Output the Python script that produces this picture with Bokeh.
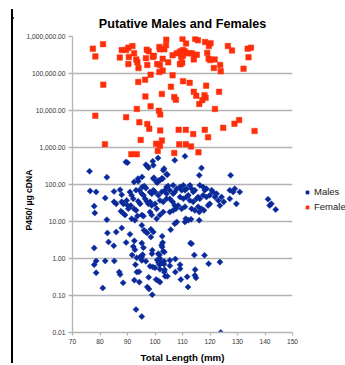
import math
from bokeh.plotting import figure
from bokeh.layouts import row, column
from bokeh.models import (FixedTicker, NumeralTickFormatter, Legend, Div,
                          LegendItem, Range1d, ColumnDataSource)
from bokeh.embed import file_html
from bokeh.resources import INLINE

# ---------------- data ----------------
female_length = [77.4, 78.3, 81.1, 81.2, 87.2, 87.9, 89.5, 90.3, 90.3, 90.5,
                 91.8, 92.4, 93.2, 93.6, 94.0, 93.9, 96.4, 97.0, 97.7, 96.7,
                 97.2, 98.4, 99.2, 99.6, 100.8, 101.6, 101.8, 102.8, 101.8, 101.6,
                 102.8, 103.4, 104.0, 104.1, 104.8, 106.4, 107.9, 109.1, 106.4, 105.8,
                 96.5, 102.5, 107.0, 110.0, 111.3, 114.6, 115.6, 118.2, 119.6, 120.2,
                 109.0, 109.5, 110.2, 110.8, 111.3, 112.6, 113.4, 114.4, 115.2, 110.2,
                 109.5, 114.1, 109.3, 109.9, 119.0, 119.5, 120.1, 121.7, 121.4, 123.7,
                 123.9, 126.5, 128.0, 132.2, 133.7, 134.9, 134.0, 110.2, 112.6, 118.6,
                 114.1, 115.0, 118.0, 118.4, 117.2, 123.3, 107.6, 116.1, 121.8, 93.4,
                 98.4, 101.4, 101.9, 78.3, 89.5, 94.3, 97.2, 97.9, 101.9, 108.6,
                 111.2, 113.9, 118.1, 119.3, 124.8, 128.9, 130.6, 136.2, 94.8, 100.4,
                 102.5, 101.8, 81.8, 108.8, 111.2, 113.1, 101.0, 91.4, 93.4, 107.0,
                 115.8]
female_p450 = [470000, 290000, 620000, 50000, 270000, 430000, 430000, 500000, 180000, 280000,
               550000, 350000, 240000, 200000, 140000, 59000, 68000, 440000, 400000, 260000,
               170000, 93000, 280000, 300000, 180000, 520000, 450000, 250000, 170000, 110000,
               120000, 450000, 580000, 830000, 200000, 310000, 350000, 180000, 89000, 44000,
               24000, 28000, 23000, 870000, 650000, 870000, 790000, 710000, 550000, 660000,
               380000, 400000, 430000, 400000, 360000, 350000, 350000, 320000, 320000, 300000,
               280000, 240000, 180000, 195000, 360000, 250000, 230000, 240000, 140000, 170000,
               115000, 550000, 420000, 135000, 470000, 500000, 275000, 62000, 56000, 47000,
               32000, 25000, 26000, 22000, 19000, 32000, 19500, 15000, 11000, 11000,
               13000, 9800, 7800, 7200, 6600, 4800, 4300, 3200, 2900, 3000,
               3000, 2300, 3000, 1900, 3400, 4400, 5500, 2800, 1600, 1260,
               1550, 1120, 1230, 1230, 1230, 1070, 810, 660, 660, 710,
               740]

male_length = [76.2, 82.5, 89.4, 90.0, 96.7, 97.2, 97.6, 99.2, 99.4, 101.1,
               103.3, 103.0, 104.5, 107.2, 110.9, 116.9, 116.1, 127.5, 95.3, 93.9,
               99.6, 101.2, 102.8, 106.6, 100.8, 92.4, 76.4, 78.6, 81.9, 85.1,
               87.3, 87.9, 85.1, 85.9, 87.9, 88.5, 87.6, 88.3, 89.1, 77.9,
               78.1, 82.5, 89.7, 90.0, 90.3, 90.9, 91.5, 92.1, 93.1, 94.3,
               95.2, 91.2, 92.4, 93.1, 93.8, 95.4, 96.1, 96.7, 95.8, 96.4,
               97.0, 97.6, 94.6, 93.9, 91.5, 92.7, 93.6, 95.2, 95.8, 95.2,
               98.2, 98.8, 99.4, 100.0, 98.2, 98.8, 100.0, 98.2, 98.8, 100.6,
               99.4, 100.6, 101.8, 102.4, 104.2, 101.2, 102.4, 103.6, 104.2, 101.8,
               103.0, 104.2, 100.6, 101.8, 103.0, 104.2, 104.8, 105.4, 106.6, 107.2,
               107.9, 105.4, 106.4, 107.2, 105.4, 106.6, 107.6, 107.2, 107.9, 109.1,
               109.7, 110.3, 110.9, 111.5, 109.1, 110.3, 111.5, 112.1, 108.4, 109.7,
               110.9, 111.2, 110.9, 112.1, 112.7, 113.3, 113.9, 114.5, 112.7, 113.9,
               115.1, 115.7, 113.3, 114.5, 115.7, 116.3, 117.5, 118.1, 118.7, 116.3,
               117.5, 118.7, 116.1, 116.9, 117.8, 116.1, 119.9, 121.1, 120.6, 119.3,
               119.9, 121.8, 122.4, 123.0, 124.2, 125.0, 123.6, 127.2, 127.2, 129.0,
               129.6, 130.8, 128.4, 141.1, 142.3, 143.9, 141.7, 113.1, 82.7, 85.9,
               87.9, 90.9, 92.5, 95.2, 95.8, 89.5, 83.1, 85.0, 77.9, 92.7,
               91.7, 93.4, 94.6, 95.2, 96.0, 96.7, 97.2, 98.5, 98.5, 102.6,
               105.7, 99.0, 101.2, 101.6, 102.6, 103.4, 112.9, 113.3, 114.3, 118.0,
               78.6, 77.9, 81.9, 85.2, 78.6, 87.0, 87.3, 92.9, 94.2, 92.5,
               94.3, 97.7, 98.2, 99.2, 100.0, 101.8, 101.6, 102.5, 103.3, 103.3,
               105.4, 105.4, 107.4, 103.5, 103.4, 103.7, 104.5, 100.4, 101.2, 101.8,
               107.4, 109.1, 109.1, 109.4, 111.7, 112.0, 114.6, 114.5, 114.9, 119.5,
               123.6, 81.0, 88.4, 97.2, 97.8, 99.0, 93.1, 95.2, 123.9, 99.4,
               95.5, 96.7, 95.2, 100.8, 101.3, 101.8, 103.0, 102.4, 93.4, 92.1,
               102.8, 98.9]
male_p450 = [228, 157, 406, 388, 343, 310, 285, 424, 330, 520,
             268, 242, 184, 451, 578, 279, 177, 177, 160, 122,
             153, 127, 144, 95, 112, 117, 67, 63, 43, 65,
             72, 53, 34, 30, 34, 30, 19, 17, 15, 26,
             17, 11.2, 37, 27, 22, 63, 51, 41, 70, 70,
             56, 27, 22, 20, 144, 86, 91, 80, 51, 41,
             35, 30, 30, 35, 11.9, 10.8, 14, 15, 14, 7.9,
             63, 56, 70, 63, 34, 27, 30, 18, 15, 22,
             144, 117, 130, 144, 190, 51, 63, 70, 56, 37,
             34, 41, 11.9, 15, 18, 86, 91, 70, 56, 63,
             77, 41, 34, 27, 18, 20, 22, 8.7, 9.7, 86,
             70, 95, 70, 77, 46, 41, 46, 51, 27, 22,
             25, 11.9, 9.7, 10.8, 95, 77, 63, 70, 37, 34,
             41, 46, 22, 20, 25, 95, 86, 70, 77, 41,
             51, 46, 18, 22, 20, 10.8, 51, 63, 70, 27,
             30, 46, 56, 37, 46, 34, 27, 70, 41, 77,
             30, 63, 63, 40, 30, 21, 27, 11.5, 4.9, 5.2,
             6.7, 4.5, 3.0, 2.6, 1.96, 2.7, 2.8, 2.2, 1.92, 1.73,
             1.24, 1.05, 1.10, 1.10, 5.8, 5.2, 4.9, 3.8, 6.2, 4.0,
             6.0, 1.67, 1.35, 1.24, 2.05, 1.50, 2.6, 2.5, 1.24, 1.22,
             0.86, 0.68, 0.86, 0.86, 0.41, 0.43, 0.37, 0.68, 0.44, 0.26,
             0.23, 0.31, 0.62, 0.59, 0.56, 0.51, 0.68, 0.75, 0.84, 0.70,
             0.89, 0.64, 0.97, 0.50, 0.43, 0.33, 0.33, 0.27, 0.25, 0.23,
             0.43, 0.53, 0.68, 0.27, 0.32, 0.17, 0.50, 0.35, 0.30, 0.72,
             0.80, 0.16, 0.22, 0.17, 0.15, 0.105, 0.042, 0.027, 0.01, 5.2,
             1.27, 0.84, 0.89, 0.91, 0.77, 0.99, 1.57, 2.3, 0.43, 2.1,
             2.7, 1.35]

y_ticks = [0.01, 0.1, 1, 10, 100, 1000, 10000, 100000, 1000000]
x_ticks = [70, 80, 90, 100, 110, 120, 130, 140, 150]

FONT = "Liberation Sans"
BLUE = "#0B2A9A"
RED = "#FF2E0A"
GRID = "#B4B4B4"

p = figure(frame_width=220, frame_height=296,
           min_border_left=59, min_border_right=52,
           min_border_top=25, min_border_bottom=33,
           x_range=Range1d(70, 150), y_range=Range1d(0.01, 1000000),
           y_axis_type="log", output_backend="svg", toolbar_location=None,
           title="Putative Males and Females")
p.outline_line_color = None
p.background_fill_color = "white"
p.border_fill_color = "white"

p.title.align = "center"
p.title.text_font = FONT
p.title.text_font_style = "bold"
p.title.text_font_size = "12.6px"
p.title.text_color = "black"
p.title.standoff = 11

# axes
p.xaxis.ticker = FixedTicker(ticks=x_ticks, minor_ticks=[])
p.yaxis.ticker = FixedTicker(ticks=y_ticks, minor_ticks=[])
p.yaxis.formatter = NumeralTickFormatter(format="0,0.00")
for ax in (p.xaxis[0], p.yaxis[0]):
    ax.axis_line_color = GRID
    ax.axis_line_width = 1.3
    ax.major_tick_line_color = GRID
    ax.major_tick_line_width = 1.3
    ax.major_tick_in = 0
    ax.minor_tick_line_color = None
    ax.major_label_text_font = FONT
    ax.major_label_text_font_size = "6.7px"
    ax.major_label_text_color = "#333333"
    ax.axis_label_text_font = FONT
    ax.axis_label_text_font_style = "bold"
    ax.axis_label_text_color = "black"
p.yaxis.major_tick_out = 4
p.yaxis.major_label_standoff = 3
p.xaxis.major_tick_out = 3
p.xaxis.major_label_standoff = 3

p.xaxis.axis_label = "Total Length (mm)"
p.xaxis.axis_label_text_font_size = "9.7px"
p.xaxis.axis_label_standoff = 5

p.yaxis.axis_label = "P450/ µg cDNA" + "\u00a0" * 13
p.yaxis.axis_label_text_font_size = "8.6px"
p.yaxis.axis_label_standoff = -11

p.xgrid.visible = False
p.ygrid.ticker = FixedTicker(ticks=y_ticks, minor_ticks=[])
p.ygrid.grid_line_color = GRID
p.ygrid.grid_line_width = 1.3

males = ColumnDataSource(dict(x=male_length, y=male_p450))
females = ColumnDataSource(dict(x=female_length, y=female_p450))
rb = p.scatter("x", "y", source=males, marker="square", angle=math.pi / 4,
               size=4.3, fill_color=BLUE, line_color=BLUE, line_width=0.5)
rr = p.scatter("x", "y", source=females, marker="square", size=5.5,
               fill_color=RED, line_color=RED, line_width=0.5)

legend = Legend(items=[LegendItem(label="Males", renderers=[rb]),
                       LegendItem(label="Females", renderers=[rr])],
                location=(11, 120), orientation="vertical",
                border_line_color=None, background_fill_alpha=0,
                padding=0, margin=0, spacing=4, label_height=10,
                glyph_height=10, glyph_width=8, label_standoff=3,
                label_text_font=FONT, label_text_font_size="9.5px",
                label_text_color="#222222")
p.add_layout(legend, "right")

# black chart-area frame (top and left edges), as in the reference
gap_top = Div(text="", width=344, height=7, margin=0)
top_bar = Div(text='<div style="margin:0 0 0 11px;width:333px;height:2px;'
                   'background:#000"></div>', width=344, height=2, margin=0)
left_bar = Div(text='<div style="margin:0 0 0 11px;width:2px;height:354px;'
                    'background:#000"></div>', width=13, height=354, margin=0)

layout = column(gap_top, top_bar, row(left_bar, p, spacing=0), spacing=0)

open("out.html", "w").write(file_html(layout, INLINE))
